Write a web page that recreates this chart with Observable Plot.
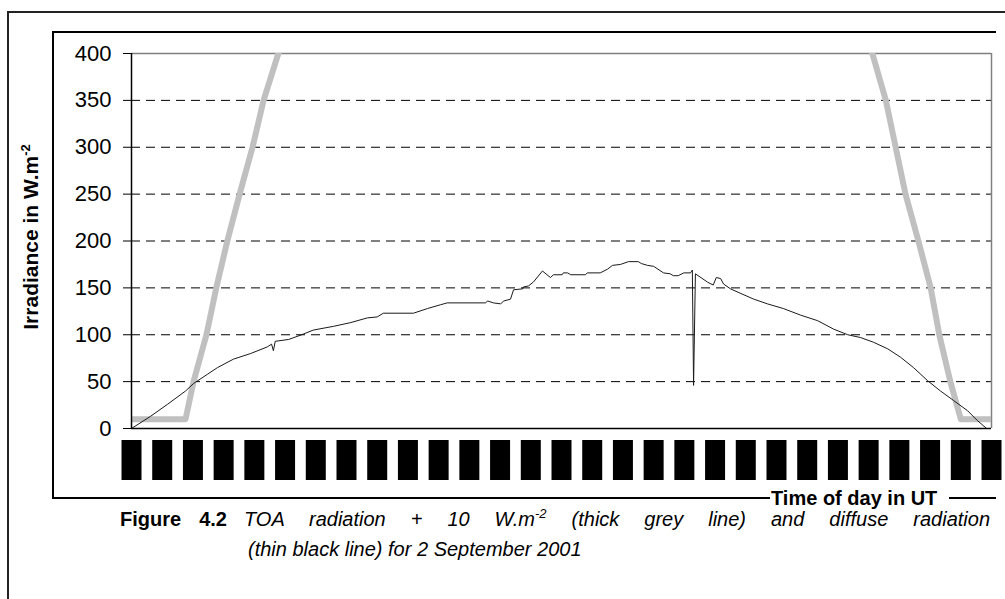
<!DOCTYPE html>
<html><head><meta charset="utf-8">
<script src="https://cdn.jsdelivr.net/npm/d3@7"></script>
<script src="https://cdn.jsdelivr.net/npm/@observablehq/plot@0.6"></script>
<style>
html,body{margin:0;padding:0;background:#fff;}
body{width:1005px;height:599px;overflow:hidden;position:relative;font-family:"Liberation Sans",Arial,sans-serif;color:#000;}
#chart{position:absolute;left:0;top:0;}
#outer{position:absolute;left:7px;top:11px;width:1100px;height:700px;border-left:2px solid #222;border-top:2px solid #222;}
#frame{position:absolute;left:52px;top:31px;width:942px;height:464px;border-left:2px solid #000;border-top:2px solid #000;border-bottom:2px solid #000;}
#xtitle{position:absolute;left:770px;top:487px;font-weight:bold;font-size:20px;line-height:22px;background:#fff;padding:0 12px 0 1px;white-space:nowrap;}
#fig{position:absolute;left:120px;top:508px;width:107px;font-weight:bold;font-size:20px;line-height:22px;text-align:justify;text-align-last:justify;}
#cap1{position:absolute;left:244px;top:508px;width:746px;font-style:italic;font-size:20px;line-height:22px;text-align:justify;text-align-last:justify;white-space:nowrap;}
#cap2{position:absolute;left:248px;top:538px;font-style:italic;font-size:20px;line-height:22px;white-space:nowrap;}
.sup{position:relative;top:-8px;font-size:13px;}
</style>
</head>
<body>
<div id="chart"></div>
<div id="outer"></div>
<div id="frame"></div>
<div id="xtitle">Time of day in UT</div>
<div id="fig">Figure 4.2</div>
<div id="cap1">TOA radiation + 10 W.m<span class="sup">-2</span> (thick grey line) and diffuse radiation</div>
<div id="cap2">(thin black line) for 2 September 2001</div>
<script>
// Tick labels (time of day, UT) and y ticks
const xTickLabels = ["4:30","5:00","5:30","6:00","6:30","7:00","7:30","8:00","8:30","9:00","9:30","10:00","10:30","11:00","11:30","12:00","12:30","13:00","13:30","14:00","14:30","15:00","15:30","16:00","16:30","17:00","17:30","18:00","18:30"];
const yTicks = [0,50,100,150,200,250,300,350,400];
const gridValues = [50,100,150,200,250,300,350];

// TOA radiation + 10 W/m2 (thick grey line); null = off the top of the chart
const toaTime  = [4.50,5.38,5.51,5.72,5.88,6.06,6.26,6.47,6.65,6.89,7.03,11.70,16.43,16.56,16.78,16.94,17.10,17.31,17.51,17.65,17.83,18.00,18.50];
const toaValue = [10,10,50,100,150,200,250,300,350,400,430,null,430,400,350,300,250,200,150,100,50,10,10];

// Diffuse radiation (thin black line)
const diffuseTime = [4.50,4.81,5.09,5.38,5.51,5.74,5.90,6.16,6.44,6.71,6.78,6.81,6.84,7.06,7.27,7.46,7.79,8.07,8.34,8.50,8.60,9.09,9.32,9.53,9.64,10.26,10.30,10.39,10.51,10.56,10.67,10.72,10.87,10.88,10.96,11.04,11.19,11.32,11.37,11.51,11.53,11.60,11.65,11.89,11.92,12.13,12.25,12.33,12.46,12.59,12.75,12.80,12.90,13.00,13.16,13.27,13.32,13.40,13.49,13.60,13.63,13.65,13.68,13.88,13.97,14.02,14.09,14.14,14.25,14.42,14.63,14.85,15.11,15.39,15.67,15.93,16.16,16.37,16.58,16.81,17.02,17.23,17.46,17.67,17.88,18.11,18.27,18.42];
const diffuseValue = [0,13,26,40,48,58,65,74,80,87,90,83,93,95,100,105,109,113,118,119,123,123,128,132,134,134,136,134,133,136,138,148,149,151,152,156,168,161,164,164,166,166,164,164,166,166,170,174,175,178,178,176,174,173,166,165,163,163,166,166,169,46,165,156,153,161,160,154,149,144,138,133,128,121,115,106,100,97,92,85,76,65,51,40,30,19,8.5,0];

const toa = toaTime.map((t, i) => ({t, v: toaValue[i]}));
const diffuse = diffuseTime.map((t, i) => ({t, v: diffuseValue[i]}));
const parseTime = s => { const [h, m] = s.split(":"); return +h + (+m) / 60; };

const svg = Plot.plot({
  width: 1005, height: 500,
  marginLeft: 131, marginRight: 14, marginTop: 53, marginBottom: 72,
  style: {background: "transparent", fontFamily: "'Liberation Sans', Arial, sans-serif", color: "#000", overflow: "visible"},
  x: {domain: [4.5, 18.5], axis: null},
  y: {domain: [0, 400], axis: null},
  marks: [
    Plot.ruleY(gridValues, {stroke: "#000", strokeWidth: 1, strokeDasharray: "9,6"}),
    Plot.ruleY([400], {stroke: "#808080", strokeWidth: 1.5}),
    Plot.ruleX([18.5], {stroke: "#808080", strokeWidth: 1.5}),
    Plot.line(toa, {x: "t", y: "v", stroke: "#c0c0c0", strokeWidth: 6, strokeLinejoin: "round", clip: true}),
    Plot.line(diffuse, {x: "t", y: "v", stroke: "#1a1a1a", strokeWidth: 1}),
    Plot.ruleX([4.5], {stroke: "#000", strokeWidth: 1.5}),
    Plot.ruleY([0], {stroke: "#000", strokeWidth: 1.5}),
    Plot.axisY({ticks: yTicks, tickSize: 8, tickPadding: 12, fontSize: 22, label: null, stroke: "#000"}),
    // x tick labels: rendered as solid black label blocks, as in the original
    Plot.ruleX(xTickLabels, {x: parseTime, stroke: "#000", strokeWidth: 20, insetTop: 387, insetBottom: -52}),
    Plot.text(xTickLabels, {
      x: parseTime, text: d => d, frameAnchor: "bottom", dy: 16,
      rotate: -90, textAnchor: "end", lineAnchor: "middle",
      fontSize: 13, fill: "#000"
    })
  ]
});

// y-axis title with superscript
const yl = d3.select(svg).append("text")
  .attr("transform", "translate(38,237) rotate(-90)")
  .attr("text-anchor", "middle")
  .attr("font-weight", "bold")
  .attr("font-size", 21)
  .attr("fill", "#000");
yl.append("tspan").text("Irradiance in W.m");
yl.append("tspan").attr("font-size", 13).attr("dy", -8).text("-2");

document.getElementById("chart").appendChild(svg);
</script>
</body></html>
